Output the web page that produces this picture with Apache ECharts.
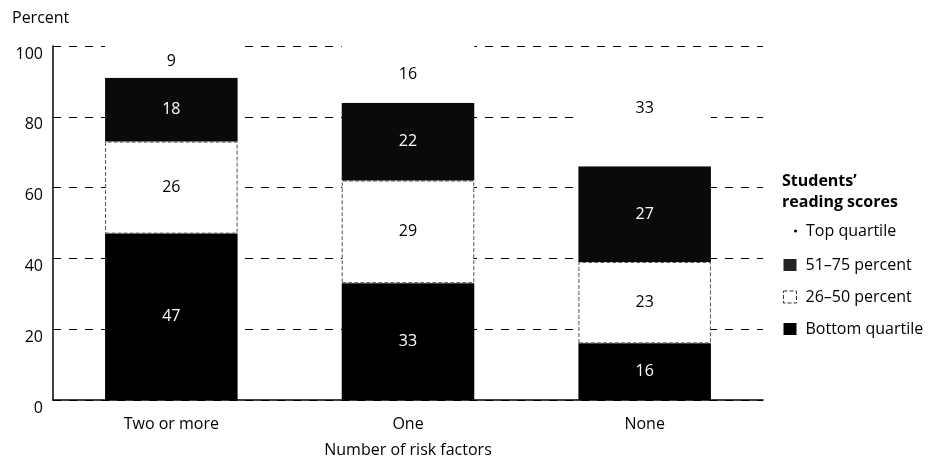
<!DOCTYPE html>
<html>
<head>
<meta charset="utf-8">
<script src="https://cdn.jsdelivr.net/npm/echarts@6/dist/echarts.min.js"></script>
<style>
  html, body { margin: 0; padding: 0; background: #fff; }
  #chart { width: 928px; height: 465px; }
</style>
</head>
<body>
<div id="chart"></div>
<script>
var categories = ["Two or more", "One", "None"];
var bottomQuartile = [47, 33, 16];
var pct26to50 = [26, 29, 23];
var pct51to75 = [18, 22, 27];
var topQuartile = [9, 16, 33];
var yTicks = [0, 20, 40, 60, 80, 100];

var font = "Open Sans";
var fs = 16;
var myChart = echarts.init(document.getElementById("chart"));

function seg(name, data, color, labelColor, border) {
  return {
    name: name,
    type: "bar",
    stack: "total",
    barWidth: "56%",
    data: data,
    itemStyle: {
      color: color,
      borderColor: border ? "#555" : color,
      borderWidth: border ? 1 : 0,
      borderType: border ? "dashed" : "solid"
    },
    label: {
      show: true,
      position: "inside",
      color: labelColor,
      fontFamily: font,
      fontSize: fs
    },
    emphasis: { disabled: true }
  };
}

var legendText = { fontFamily: font, fontSize: fs, color: "#000", padding: [0, 0, 0, 4] };

var option = {
  animation: false,
  backgroundColor: "#fff",
  title: {
    text: "Percent",
    left: 12,
    top: 10,
    padding: 0,
    textStyle: { fontFamily: font, fontSize: fs, fontWeight: "normal", color: "#000" }
  },
  grid: { left: 53, right: 165, top: 46, bottom: 65, outerBoundsMode: "none" },
  legend: [
    {
      orient: "vertical",
      left: 794,
      top: 223,
      padding: 0,
      itemWidth: 3,
      itemHeight: 3,
      data: [{ name: "Top quartile", icon: "circle", itemStyle: { color: "#000", borderWidth: 0 } }],
      textStyle: legendText
    },
    {
      orient: "vertical",
      left: 783,
      top: 257,
      padding: 0,
      itemWidth: 13,
      itemHeight: 12,
      itemGap: 16,
      data: [
        { name: "51\u201375 percent", icon: "rect", itemStyle: { color: "#222", borderWidth: 0 } },
        { name: "26\u201350 percent", icon: "rect", itemStyle: { color: "#fff", borderColor: "#333", borderWidth: 1, borderType: "dashed" } },
        { name: "Bottom quartile", icon: "rect", itemStyle: { color: "#000", borderWidth: 0 } }
      ],
      textStyle: legendText
    }
  ],
  graphic: [
    {
      type: "text",
      left: 782,
      top: 171,
      style: {
        text: "Students\u2019\nreading scores",
        font: "bold 16px 'Open Sans'",
        fill: "#000",
        lineHeight: 21
      }
    }
  ],
  xAxis: {
    type: "category",
    data: categories,
    name: "Number of risk factors",
    nameLocation: "middle",
    nameGap: 42,
    nameTextStyle: { fontFamily: font, fontSize: fs, color: "#000" },
    axisLine: { lineStyle: { color: "#000", width: 1.5 } },
    axisTick: { show: false },
    axisLabel: { margin: 16, fontFamily: font, fontSize: fs, color: "#000" }
  },
  yAxis: {
    type: "value",
    min: yTicks[0],
    max: yTicks[yTicks.length - 1],
    interval: 20,
    axisLine: { show: true, lineStyle: { color: "#000", width: 1.5 } },
    axisTick: { show: false },
    axisLabel: { margin: 10, fontFamily: font, fontSize: fs, color: "#000", verticalAlign: "top" },
    splitLine: { show: true, lineStyle: { color: "#000", type: [8, 8], width: 1 } }
  },
  series: [
    seg("Bottom quartile", bottomQuartile, "#000", "#fff", false),
    seg("26\u201350 percent", pct26to50, "#fff", "#000", true),
    seg("51\u201375 percent", pct51to75, "#0a0a0a", "#fff", false),
    seg("Top quartile", topQuartile, "#fff", "#000", false)
  ]
};
myChart.setOption(option);
</script>
</body>
</html>
